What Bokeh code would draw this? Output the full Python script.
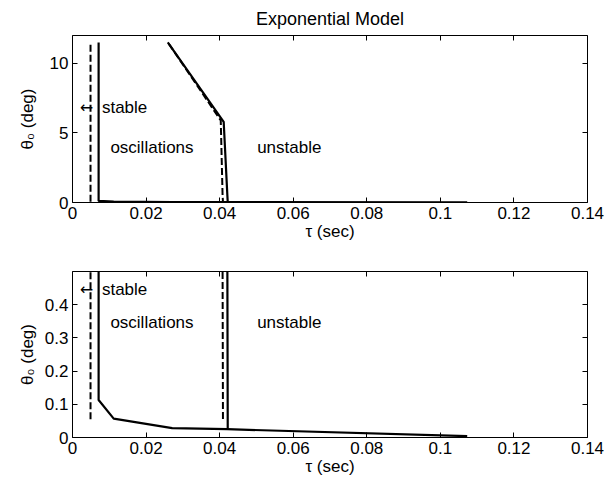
from bokeh.plotting import figure
from bokeh.layouts import column
from bokeh.models import LinearAxis, FixedTicker, Range1d
from bokeh.core.properties import value
from bokeh.embed import file_html
from bokeh.resources import INLINE

FONT = "Liberation Sans"

# Stability boundaries, tau (sec) vs theta_0 (deg)
# lower boundary (solid): stable / oscillations, then bottom branch
low_solid_tau = [0.0071, 0.0071, 0.0112, 0.0271, 0.0420, 0.1073]
low_solid_theta = [11.5, 0.113, 0.057, 0.028, 0.025, 0.004]
# lower boundary (dashed)
low_dash_tau = [0.0049, 0.0049]
low_dash_theta = [0.055, 11.5]
# upper boundary (solid): oscillations / unstable
up_solid_tau = [0.0259, 0.0411, 0.0421, 0.0422]
up_solid_theta = [11.5, 5.8, 0.5, 0.026]
# upper boundary (dashed)
up_dash_tau = [0.0262, 0.0403, 0.0408, 0.0409]
up_dash_theta = [11.4, 5.9, 0.5, 0.052]

x_ticks = [0, 0.02, 0.04, 0.06, 0.08, 0.1, 0.12, 0.14]
x_tick_labels = ["0", "0.02", "0.04", "0.06", "0.08", "0.1", "0.12", "0.14"]

panels = [
    dict(ymax=12, yticks=[0, 5, 10], ylabels=["0", "5", "10"],
         arrow_y=6.82, region_y=3.96, title="Exponential Model",
         height=244, border=(34, 42), ylabel_standoff=10),
    dict(ymax=0.5, yticks=[0, 0.1, 0.2, 0.3, 0.4],
         ylabels=["0", "0.1", "0.2", "0.3", "0.4"],
         arrow_y=0.447, region_y=0.347, title=None,
         height=236, border=(27, 43), ylabel_standoff=5),
]


def style_axis(ax, ticks, labels=None):
    ax.ticker = FixedTicker(ticks=ticks)
    ax.major_tick_in = 5
    ax.major_tick_out = 0
    ax.minor_tick_in = 0
    ax.minor_tick_out = 0
    ax.axis_line_color = None
    ax.major_tick_line_color = "black"
    ax.major_tick_line_width = 1
    ax.major_label_text_font = FONT
    if labels is None:
        # tick marks only, for the top and right sides of the box
        ax.major_label_text_color = None
        ax.major_label_text_font_size = "1px"
        ax.major_label_standoff = 0
    else:
        ax.major_label_text_color = "black"
        ax.major_label_text_font_size = "17px"
        ax.major_label_overrides = {t: l for t, l in zip(ticks, labels)}


def style_label(ax, standoff):
    ax.axis_label_standoff = standoff
    ax.axis_label_text_font = FONT
    ax.axis_label_text_font_size = "17px"
    ax.axis_label_text_font_style = "normal"
    ax.axis_label_text_color = "black"


figs = []
for cfg in panels:
    top, bottom = cfg["border"]
    p = figure(width=604, height=cfg["height"], output_backend="svg",
               toolbar_location=None,
               x_range=Range1d(0, 0.14), y_range=Range1d(0, cfg["ymax"]),
               min_border_left=72, min_border_right=17,
               min_border_top=top, min_border_bottom=bottom,
               x_axis_location=None, y_axis_location=None)
    p.grid.visible = False
    p.outline_line_color = "black"
    p.outline_line_width = 1
    p.background_fill_color = "white"
    p.border_fill_color = "white"

    xb = LinearAxis(axis_label="τ (sec)")
    style_axis(xb, x_ticks, x_tick_labels)
    xb.major_label_standoff = 4
    style_label(xb, 0)
    p.add_layout(xb, "below")

    yl = LinearAxis(axis_label="θ₀ (deg)")
    style_axis(yl, cfg["yticks"], cfg["ylabels"])
    yl.major_label_standoff = 4
    style_label(yl, cfg["ylabel_standoff"])
    p.add_layout(yl, "left")

    xa = LinearAxis()
    style_axis(xa, x_ticks)
    p.add_layout(xa, "above")
    yr = LinearAxis()
    style_axis(yr, cfg["yticks"])
    p.add_layout(yr, "right")

    if cfg["title"]:
        p.title.text = cfg["title"]
        p.title.align = "center"
        p.title.text_font = FONT
        p.title.text_font_size = "18px"
        p.title.text_font_style = "normal"
        p.title.text_color = "black"
        p.title.standoff = 13

    p.line(low_solid_tau, low_solid_theta, line_color="black", line_width=2.2)
    p.line(up_solid_tau, up_solid_theta, line_color="black", line_width=2.2)
    p.line(low_dash_tau, low_dash_theta, line_color="black", line_width=2,
           line_dash="7 3")
    p.line(up_dash_tau, up_dash_theta, line_color="black", line_width=2,
           line_dash="7 3")

    ry = cfg["region_y"]
    p.text(x=[0.0020], y=[cfg["arrow_y"]], text=["←"],
           text_font=value("DejaVu Sans"), text_font_size="16px",
           text_baseline="middle", text_align="left", text_color="black")
    p.text(x=[0.0080, 0.0103, 0.0502], y=[cfg["arrow_y"], ry, ry],
           text=["stable", "oscillations", "unstable"],
           text_font=value(FONT), text_font_size="17px",
           text_baseline="middle", text_align="left", text_color="black")
    figs.append(p)

layout = column(*figs, spacing=0)
open("out.html", "w").write(file_html(layout, INLINE))
